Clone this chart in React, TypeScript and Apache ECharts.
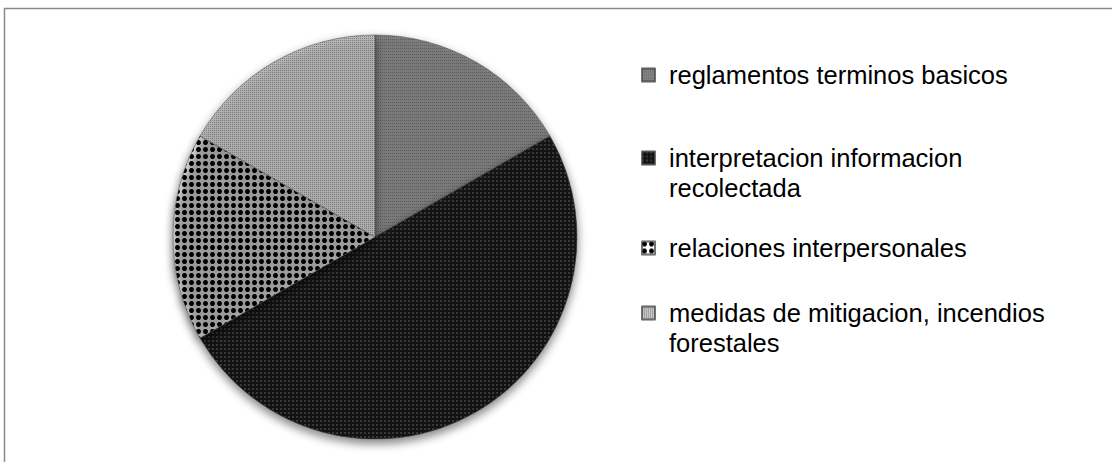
import React, { useEffect, useRef } from "react";
import * as echarts from "echarts";

// Topics and their counts
const categories = [
  "reglamentos terminos basicos",
  "interpretacion informacion recolectada",
  "relaciones interpersonales",
  "medidas de mitigacion, incendios forestales",
];
const values = [1, 3, 1, 1];
// Legend text, wrapped where the line runs out of room
const legendLabels = [
  "reglamentos terminos basicos",
  "interpretacion informacion\nrecolectada",
  "relaciones interpersonales",
  "medidas de mitigacion, incendios\nforestales",
];

const FONT = "'Liberation Sans', Arial, sans-serif";

// Fill + texture for each slice
const sliceStyles = [
  {
    color: "#828282",
    decal: { symbol: "rect", color: "rgba(50,50,50,0.4)", dashArrayX: [1, 1], dashArrayY: [1, 2], symbolSize: 1 },
  },
  {
    color: "#141414",
    decal: { symbol: "circle", color: "#444444", dashArrayX: [1.5, 1.5], dashArrayY: [1.5, 1.5], symbolSize: 0.9 },
  },
  {
    color: "#ffffff",
    decal: { symbol: "circle", color: "#000000", dashArrayX: [4.2, 1.8], dashArrayY: [4.2, 1.8], symbolSize: 1 },
  },
  {
    color: "#c4c4c4",
    decal: { symbol: "rect", color: "rgba(70,70,70,0.5)", dashArrayX: [1, 1], dashArrayY: [1, 1], symbolSize: 1 },
  },
];

// Centre line of each legend entry's first text row
const legendCentres = [75, 158, 248, 313];

export default function App() {
  const ref = useRef<HTMLDivElement>(null);

  useEffect(() => {
    if (!ref.current) return;
    const chart = echarts.init(ref.current, undefined, { renderer: "svg" });

    const legends = categories.map((name, i) => {
      const label = legendLabels[i];
      const wrapped = label.indexOf("\n") >= 0;
      // A wrapped entry gets an empty leading row so the icon lines up with its first row
      const text = wrapped ? "\n" + label : label;
      const boxHalf = wrapped ? 45 : 15;
      return {
        data: [name],
        orient: "vertical",
        left: 641,
        top: legendCentres[i] - boxHalf,
        padding: 0,
        itemWidth: 13,
        itemHeight: 13,
        icon: "rect",
        selectedMode: false,
        formatter: () => text,
        textStyle: {
          fontFamily: FONT,
          fontSize: 25.5,
          lineHeight: 30,
          color: "#000",
          padding: [0, 0, 0, 9],
        },
      };
    });

    chart.setOption({
      animation: false,
      backgroundColor: "#ffffff",
      graphic: [
        {
          type: "rect",
          shape: { x: 4.5, y: 8.5, width: 1200, height: 600 },
          style: { fill: "none", stroke: "#8a8a8a", lineWidth: 1.5 },
          silent: true,
        },
      ],
      legend: legends,
      series: [
        {
          type: "pie",
          center: [375, 237],
          radius: 202,
          startAngle: 90,
          clockwise: true,
          label: { show: false },
          labelLine: { show: false },
          emphasis: { disabled: true },
          itemStyle: {
            borderColor: "rgba(70,70,70,0.5)",
            borderWidth: 0.6,
            shadowBlur: 10,
            shadowOffsetY: 4,
            shadowColor: "rgba(0,0,0,0.35)",
          },
          data: categories.map((name, i) => ({
            name,
            value: values[i],
            itemStyle: sliceStyles[i],
          })),
        },
      ],
    });

    return () => chart.dispose();
  }, []);

  return (
    <div
      ref={ref}
      style={{ position: "fixed", left: 0, top: 0, width: 1112, height: 462, background: "#fff" }}
    />
  );
}
